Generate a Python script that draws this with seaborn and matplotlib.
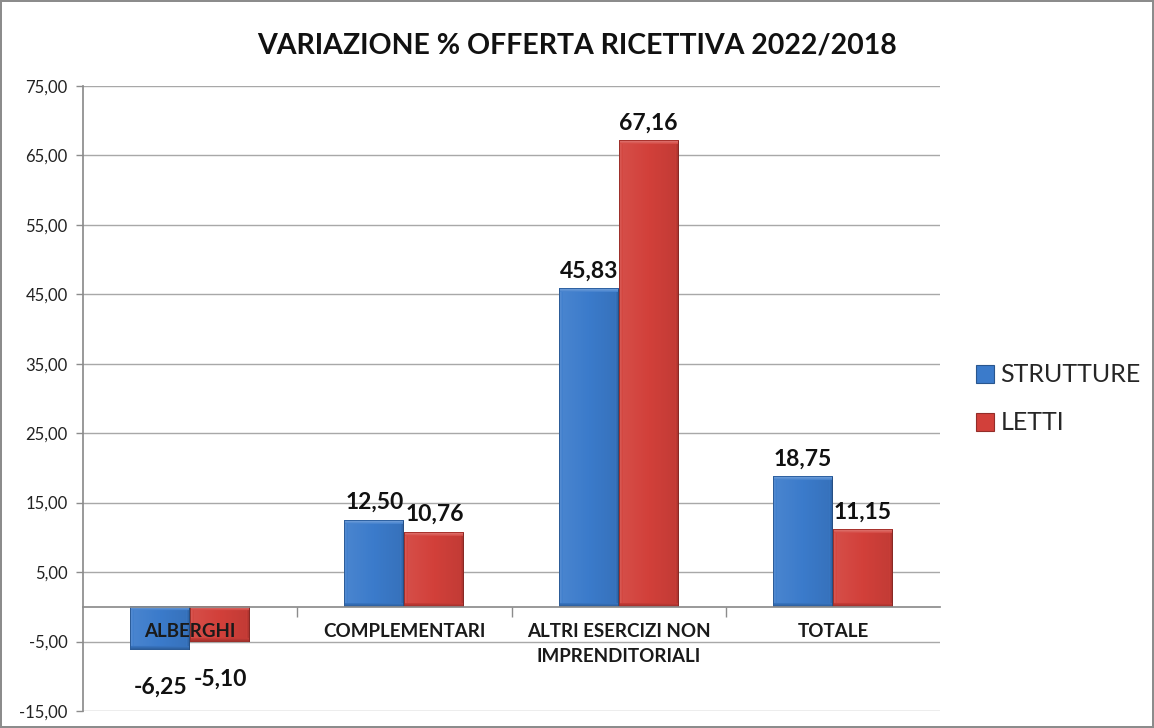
import numpy as np
import pandas as pd
import matplotlib
matplotlib.use("Agg")
import matplotlib.pyplot as plt
import seaborn as sns
from matplotlib.ticker import FixedLocator, FuncFormatter
from matplotlib.colors import to_rgb
from matplotlib.patches import Patch

categories = ["ALBERGHI", "COMPLEMENTARI", "ALTRI ESERCIZI NON\nIMPRENDITORIALI", "TOTALE"]
series_names = ["STRUTTURE", "LETTI"]
strutture = [-6.25, 12.50, 45.83, 18.75]
letti = [-5.10, 10.76, 67.16, 11.15]
y_ticks = [-15, -5, 5, 15, 25, 35, 45, 55, 65, 75]
title = "VARIAZIONE % OFFERTA RICETTIVA 2022/2018"

colors = ["#3B7BCB", "#D2403A"]

sns.set_theme(style="white")
plt.rcParams["font.family"] = ["Lato", "DejaVu Sans"]

df = pd.DataFrame({
    "cat": categories * 2,
    "val": strutture + letti,
    "serie": [series_names[0]] * 4 + [series_names[1]] * 4,
})

fig = plt.figure(figsize=(11.54, 7.28), dpi=100)
fig.patch.set_edgecolor("#8C8C8C")
fig.patch.set_linewidth(1.5)
ax = fig.add_axes([0.072, 0.0234, 0.7426, 0.8586])

sns.barplot(data=df, x="cat", y="val", hue="serie", palette=colors, width=0.56,
            ax=ax, edgecolor="none", linewidth=0, saturation=1, errorbar=None)

ax.set_xlim(-0.5, 3.5)
ax.set_ylim(-15, 75)
fig.canvas.draw()


def shade(c, f):
    c = np.array(c)
    if f >= 0:
        return c + (1 - c) * f
    return c * (1 + f)


# bevel-like fill over each bar
for cont, col in zip(ax.containers, colors):
    base = np.array(to_rgb(col))
    for bar in cont:
        bb = bar.get_bbox()
        x0, x1 = sorted([bb.x0, bb.x1])
        y0, y1 = sorted([bb.y0, bb.y1])
        p0 = ax.transData.transform((x0, y0))
        p1 = ax.transData.transform((x1, y1))
        wpx = max(int(round(p1[0] - p0[0])), 2)
        hpx = max(int(round(p1[1] - p0[1])), 2)
        img = np.zeros((hpx, wpx, 3))
        gx = np.linspace(0.08, -0.08, wpx)
        for i in range(wpx):
            img[:, i] = shade(base, gx[i])
        b = 4
        for k in range(b):
            t = 1 - k / b
            img[:, k] = shade(base, 0.16 * t)
            img[:, -1 - k] = shade(base, -0.22 * t)
        for k in range(b):
            t = 1 - k / b
            img[k, :] = shade(base, 0.30 * t)
            img[-1 - k, :] = shade(base, -0.25 * t)
        img[:, 0] = shade(base, -0.25)
        img[:, -1] = shade(base, -0.35)
        img[0, :] = shade(base, -0.2)
        img = np.clip(img, 0, 1)
        ax.imshow(img, extent=[x0, x1, y0, y1], origin="upper", aspect="auto",
                  zorder=2, interpolation="bilinear")
        bar.set_visible(False)

ax.set_xlim(-0.5, 3.5)
ax.set_ylim(-15, 75)

# grid lines
for t in y_ticks:
    ax.axhline(t, color="#A8A8A8", lw=1, zorder=0.5)

ax.yaxis.set_major_locator(FixedLocator(y_ticks))
ax.yaxis.set_major_formatter(FuncFormatter(lambda v, p: f"{v:.2f}".replace(".", ",")))
ax.tick_params(axis="y", length=5, width=1, color="#8C8C8C", labelsize=12,
               labelcolor="#222222", pad=6, left=True)

for s in ["top", "right"]:
    ax.spines[s].set_visible(False)
ax.spines["left"].set_color("#8C8C8C")
ax.spines["bottom"].set_position(("data", 0))
ax.spines["bottom"].set_color("#8C8C8C")
ax.spines["bottom"].set_zorder(3)

ax.set_xticks(range(len(categories)))
ax.set_xticklabels(categories, fontsize=13.5, fontweight="bold", color="#1A1A1A",
                   linespacing=1.55)
ax.set_xticks([0.5, 1.5, 2.5], minor=True)
ax.tick_params(axis="x", which="major", length=0, pad=12)
ax.tick_params(axis="x", which="minor", length=7, width=1, color="#8C8C8C",
               direction="out", bottom=True)
ax.xaxis.set_zorder(5)
ax.set_xlabel("")
ax.set_ylabel("")

# data labels
for cont, vals in zip(ax.containers, [strutture, letti]):
    for bar, v in zip(cont, vals):
        bb = bar.get_bbox()
        xc = (bb.x0 + bb.x1) / 2
        txt = f"{v:.2f}".replace(".", ",")
        if v >= 0:
            ax.annotate(txt, (xc, v), xytext=(0, 5), textcoords="offset points",
                        ha="center", va="bottom", fontsize=16.5, fontweight="bold",
                        color="#111111", zorder=6)
        else:
            ax.annotate(txt, (xc, v), xytext=(0, -19), textcoords="offset points",
                        ha="center", va="top", fontsize=16.5, fontweight="bold",
                        color="#111111", zorder=6)

# legend
leg = ax.get_legend()
if leg is not None:
    leg.remove()
handles = [Patch(facecolor=c, edgecolor=shade(to_rgb(c), -0.3), linewidth=0.8)
           for c in colors]
fig.legend(handles, series_names, loc="center left", bbox_to_anchor=(0.846, 0.452),
           frameon=False, fontsize=18, handlelength=0.72, handleheight=0.72,
           handletextpad=0.25, labelspacing=1.0, borderaxespad=0, borderpad=0)

fig.text(0.5, 0.938, title, ha="center", va="center", fontsize=20.5,
         fontweight="bold", color="#111111")

fig.savefig("out.png", dpi=100, edgecolor=fig.get_edgecolor())
